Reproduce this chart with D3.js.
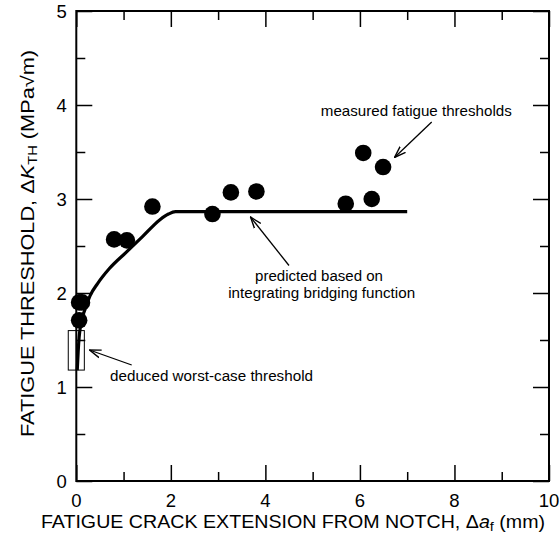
<!DOCTYPE html>
<html><head><meta charset="utf-8">
<script src="https://cdn.jsdelivr.net/npm/d3@7"></script>
<style>body{margin:0;background:#fff}svg{display:block}text{font-family:Arial,"Liberation Sans",sans-serif;fill:#000}</style>
</head><body><svg id="c" width="560" height="535"></svg>
<script>
const measuredX = [0.06, 0.12, 0.06, 0.80, 1.07, 1.61, 2.88, 3.27, 3.81, 5.70, 6.25, 6.07, 6.49];
const measuredY = [1.90, 1.90, 1.71, 2.57, 2.56, 2.92, 2.84, 3.07, 3.08, 2.95, 3.00, 3.49, 3.34];
const predX = [0.02, 0.04, 0.06, 0.10, 0.18, 0.29, 0.45, 0.70, 1.07, 1.40, 1.77, 1.95, 2.10, 7.00];
const predY = [1.18, 1.38, 1.53, 1.68, 1.82, 1.97, 2.10, 2.26, 2.44, 2.60, 2.78, 2.84, 2.865, 2.865];
const xMajor = [0, 2, 4, 6, 8, 10];
const xMinor = [1, 3, 5, 7, 9];
const yMajor = [0, 1, 2, 3, 4, 5];
const yMinor = [0.5, 1.5, 2.5, 3.5, 4.5];
const worstBox = {x0: -0.17, x1: 0.17, y0: 1.18, y1: 1.60};

const svg = d3.select("#c");
const L = 76.3, R = 549, T = 11, B = 481;
const x = d3.scaleLinear().domain([0, 10]).range([L, R]);
const y = d3.scaleLinear().domain([0, 5]).range([B, T]);

const defs = svg.append("defs");
defs.append("marker").attr("id","ah").attr("viewBox","0 0 12 10").attr("refX",11.5).attr("refY",5)
  .attr("markerWidth",12).attr("markerHeight",10).attr("markerUnits","userSpaceOnUse").attr("orient","auto")
  .append("path").attr("d","M0,1 L11.5,5 L0,9").attr("fill","none").attr("stroke","#000").attr("stroke-width",1.4);

// stretch text horizontally to a target width around anchor cx
function fit(sel, target, cx) {
  const w = sel.node().getBBox().width;
  const s = target / w;
  sel.attr("transform", `translate(${cx},0) scale(${s},1) translate(${-cx},0)`);
}

// axes with inward ticks
const g = svg.append("g");
function ax(gen, tr, vals, len) {
  g.append("g").attr("transform", tr).call(gen.tickValues(vals).tickSize(len).tickFormat(""))
    .call(s => { s.select(".domain").remove(); s.selectAll("line").attr("stroke","#000").attr("stroke-width",1.5); });
}
ax(d3.axisTop(x), `translate(0,${B})`, xMajor, 16);
ax(d3.axisTop(x), `translate(0,${B})`, xMinor, 9);
ax(d3.axisBottom(x), `translate(0,${T})`, xMajor, 16);
ax(d3.axisBottom(x), `translate(0,${T})`, xMinor, 9);
ax(d3.axisRight(y), `translate(${L},0)`, yMajor, 16);
ax(d3.axisRight(y), `translate(${L},0)`, yMinor, 9);
ax(d3.axisLeft(y), `translate(${R},0)`, yMajor, 16);
ax(d3.axisLeft(y), `translate(${R},0)`, yMinor, 9);
g.append("rect").attr("x",L).attr("y",T).attr("width",R-L).attr("height",B-T)
  .attr("fill","none").attr("stroke","#000").attr("stroke-width",2);

// tick labels
g.selectAll(".xl").data(xMajor).enter().append("text").attr("x",d=>x(d)).attr("y",B+26)
  .attr("text-anchor","middle").attr("font-size",18.5).text(d=>d);
g.selectAll(".yl").data(yMajor).enter().append("text").attr("x",L-9.5).attr("y",d=>y(d)+7)
  .attr("text-anchor","end").attr("font-size",18.5).text(d=>d);

// axis titles
const xt = svg.append("text").attr("x",293).attr("y",528).attr("text-anchor","middle").attr("font-size",18.3);
xt.append("tspan").text("FATIGUE CRACK EXTENSION FROM NOTCH, \u0394");
xt.append("tspan").attr("font-style","italic").text("a");
xt.append("tspan").attr("font-size",13.5).attr("dy",3).text("f");
xt.append("tspan").attr("dy",-3).text(" (mm)");
fit(xt, 504, 293);

const yt = svg.append("text").attr("x",0).attr("y",0).attr("text-anchor","middle").attr("font-size",17.8);
yt.append("tspan").text("FATIGUE THRESHOLD, \u0394");
yt.append("tspan").attr("font-style","italic").text("K");
yt.append("tspan").attr("font-size",12).attr("dy",3).text("TH");
yt.append("tspan").attr("dy",-3).text(" (MPa\u221Am)");
{
  const w = yt.node().getBBox().width;
  yt.attr("transform", `translate(33.5,243.5) rotate(-90) scale(${387 / w},1)`);
}

// worst-case box
svg.append("rect").attr("x",x(worstBox.x0)).attr("y",y(worstBox.y1))
  .attr("width",x(worstBox.x1)-x(worstBox.x0)).attr("height",y(worstBox.y0)-y(worstBox.y1))
  .attr("fill","none").attr("stroke","#000").attr("stroke-width",1);

// prediction line
const pred = predX.map((d,i)=>[d,predY[i]]);
svg.append("path").datum(pred).attr("fill","none").attr("stroke","#000").attr("stroke-width",3.2)
  .attr("d", d3.line().x(d=>x(d[0])).y(d=>y(d[1])).curve(d3.curveMonotoneX));

// measured points
svg.selectAll("circle.m").data(measuredX.map((d,i)=>[d,measuredY[i]])).enter().append("circle")
  .attr("cx",d=>x(d[0])).attr("cy",d=>y(d[1])).attr("r",8.3).attr("fill","#000");

// annotations
function arrow(x1,y1,x2,y2){
  svg.append("line").attr("x1",x1).attr("y1",y1).attr("x2",x2).attr("y2",y2)
    .attr("stroke","#000").attr("stroke-width",1.3).attr("marker-end","url(#ah)");
}
function note(txt, cx, yb, w) {
  const t = svg.append("text").attr("x",cx).attr("y",yb).attr("text-anchor","middle").attr("font-size",14.5).text(txt);
  fit(t, w, cx);
}
note("measured fatigue thresholds", 416.3, 116, 191);
arrow(431.7,122,394.5,157.5);
note("predicted based on", 319, 281, 128);
note("integrating bridging function", 321.7, 298, 187);
arrow(289,265.5,250.5,217);
note("deduced worst-case threshold", 211.5, 381, 203);
arrow(131.7,365,89.5,350);
</script></body></html>
